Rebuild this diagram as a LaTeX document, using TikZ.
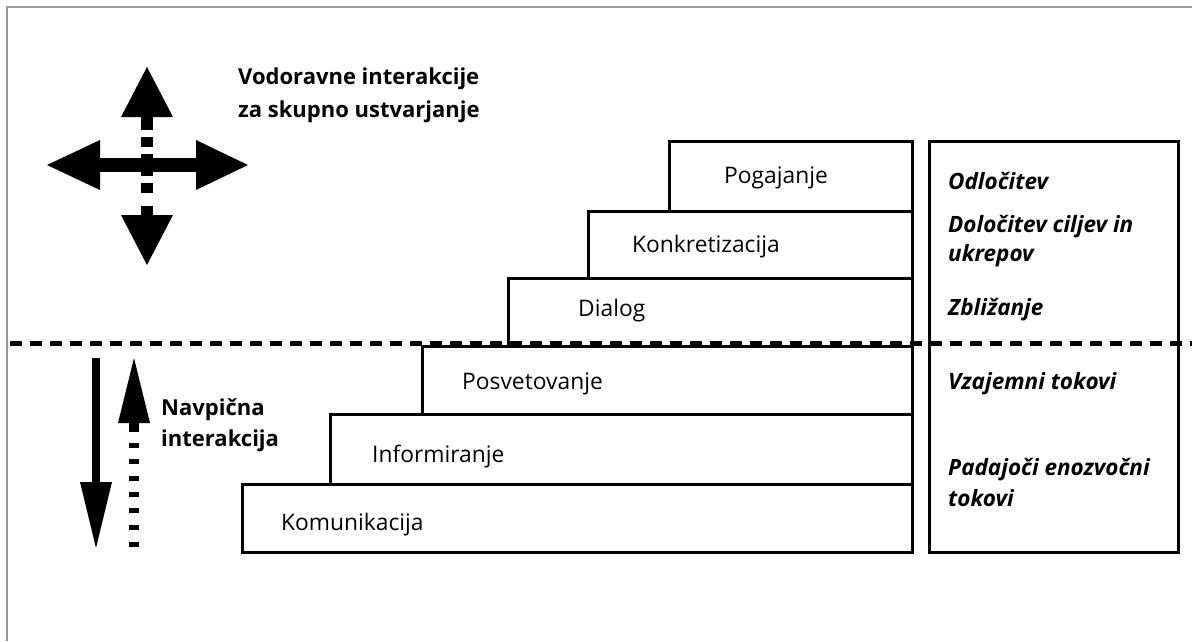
\documentclass[tikz,border=0pt]{standalone}
\usepackage{fontspec}
\setmainfont{Open Sans}
\begin{document}
\begin{tikzpicture}[x=1pt,y=-1pt,
  stepbox/.style={draw, line width=3pt, rectangle, inner sep=0pt, anchor=north west},
  lbl/.style={anchor=west, inner sep=0pt, font=\fontsize{22.8}{26}\selectfont},
  blbl/.style={anchor=west, inner sep=0pt, font=\bfseries\fontsize{22}{26}\selectfont},
  ilbl/.style={anchor=west, inner sep=0pt, font=\bfseries\itshape\fontsize{22.5}{26}\selectfont}]
\useasboundingbox (0,0) rectangle (1192,641);
\fill[white] (0,0) rectangle (1192,641);
\draw[black!40, line width=2pt] (1192,7) -- (7,7) -- (7,641);

% staircase
\node[stepbox, minimum width=670pt, minimum height=68pt] (komun) at (241,483) {};
\node[stepbox, minimum width=582pt, minimum height=70pt] (inform) at (329,413) {};
\node[stepbox, minimum width=490pt, minimum height=68pt] (posvet) at (421,345) {};
\node[stepbox, minimum width=404pt, minimum height=68pt] (dialog) at (507,277) {};
\node[stepbox, minimum width=324pt, minimum height=67pt] (konkr) at (587,210) {};
\node[stepbox, minimum width=243pt, minimum height=70pt] (pogaj) at (668,140) {};

\node[lbl] (tkomun) at (281,525) {Komunikacija};
\node[lbl] (tinform) at (372,457) {Informiranje};
\node[lbl] (tposvet) at (462,384) {Posvetovanje};
\node[lbl] (tdialog) at (578,311) {Dialog};
\node[lbl] (tkonkr) at (632,247) {Konkretizacija};
\node[lbl] (tpogaj) at (724,178) {Pogajanje};

% right box
\node[stepbox, minimum width=249pt, minimum height=411pt] (side) at (928,140) {};
\node[ilbl] (r1) at (948,181) {Odločitev};
\node[ilbl] (r2) at (948,227) {Določitev ciljev in};
\node[ilbl] (r3) at (948,256) {ukrepov};
\node[ilbl] (r4) at (948,310) {Zbližanje};
\node[ilbl] (r5) at (948,384) {Vzajemni tokovi};
\node[ilbl] (r6) at (948,470) {Padajoči enozvočni};
\node[ilbl] (r7) at (948,498) {tokovi};

% dashed separator
\coordinate (dl) at (10,343);
\coordinate (dr) at (1192,343);
\draw[line width=5pt, dash pattern=on 12pt off 8pt] (dl) -- (dr);

% headings
\node[blbl] (h1) at (238,79) {Vodoravne interakcije};
\node[blbl] (h2) at (238,112) {za skupno ustvarjanje};
\node[blbl] (v1) at (161,410) {Navpična};
\node[blbl] (v2) at (161,441) {interakcija};

% four-way arrow
\fill (100,158) rectangle (196,172);
\fill (47,165) -- (100,140) -- (100,190) -- cycle;
\fill (248,165) -- (196,140) -- (196,190) -- cycle;
\fill (147,67) -- (121,117) -- (173,117) -- cycle;
\fill (147,265) -- (121,215) -- (173,215) -- cycle;
\fill (141,117) rectangle (153,130);
\fill (141,137) rectangle (153,147);
\fill (141,154) rectangle (153,176);
\fill (141,183) rectangle (153,193);
\fill (141,206) rectangle (153,215);

% vertical arrows
\fill (92,358) rectangle (100,482);
\fill (80,482) -- (112,482) -- (96,548) -- cycle;
\fill (134,358) -- (118,423) -- (150,423) -- cycle;
\fill (129,423) rectangle (139,432);
\foreach \yy in {443,459,476,492,508,525,542} {\fill (129,\yy) rectangle (139,\yy+5);}
\end{tikzpicture}
\end{document}
